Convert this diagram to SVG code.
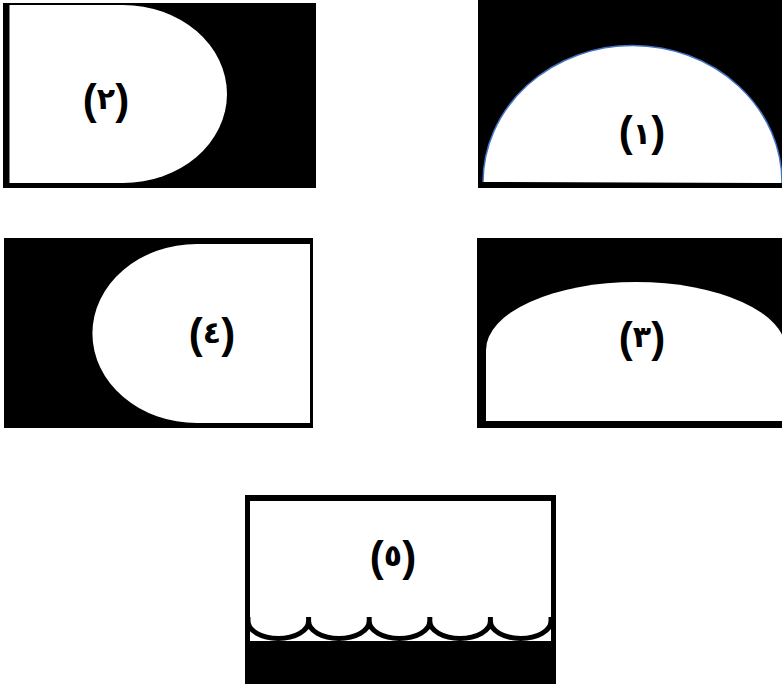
<svg xmlns="http://www.w3.org/2000/svg" width="782" height="685" viewBox="0 0 782 685">
<style>
.blk{fill:#000}
.wht{fill:#fff}
.lbl{font-family:"Liberation Sans","DejaVu Sans",sans-serif;font-weight:bold;font-size:42px;fill:#000;text-anchor:middle;direction:ltr}
.dg{font-family:"DejaVu Sans",sans-serif;font-size:30px}
.scal{fill:none;stroke:#000;stroke-width:5}
</style>
<rect width="782" height="685" fill="#fff"/>
<g id="panel1">
<rect class="blk" x="478" y="0" width="304" height="188"/>
<path class="wht" d="M483 182 A149.5 137 0 0 1 782 183 Z"/>
<path d="M483 182 A149.5 137 0 0 1 782 183" fill="none" stroke="#4472C4" stroke-width="1.5"/>
<text class="lbl" x="642" y="146">(<tspan class="dg" dy="-2">١</tspan><tspan dy="2">)</tspan></text>
</g>
<g id="panel2">
<rect class="blk" x="3" y="3" width="313" height="185"/>
<path class="wht" d="M9.5 5 H123 A104 89 0 0 1 123 183 H9.5 Z"/>
<text class="lbl" x="106" y="114">(<tspan class="dg" dy="-5">٢</tspan><tspan dy="5">)</tspan></text>
</g>
<g id="panel3">
<rect class="blk" x="477" y="238" width="305" height="190"/>
<path class="wht" d="M486 421 V350 A150 68 0 0 1 786 350 V421 Z"/>
<text class="lbl" x="642" y="352">(<tspan class="dg" dy="-5">٣</tspan><tspan dy="5">)</tspan></text>
</g>
<g id="panel4">
<rect class="blk" x="4" y="238" width="309" height="190"/>
<path class="wht" d="M310 244 H197 A104 89 0 0 0 197 423 H310 Z"/>
<text class="lbl" x="212" y="348">(<tspan class="dg" dy="-5">٤</tspan><tspan dy="5">)</tspan></text>
</g>
<g id="panel5">
<rect class="blk" x="245" y="495" width="311" height="189"/>
<rect class="wht" x="250" y="501" width="301" height="140"/>
<path class="scal" d="M248 617 v4 A30.3 17.5 0 0 0 308.6 621 v-4 M308.6 621 A30.3 17.5 0 0 0 369.2 621 v-4 M369.2 621 A30.3 17.5 0 0 0 429.8 621 v-4 M429.8 621 A30.3 17.5 0 0 0 490.4 621 v-4 M490.4 621 A30.3 17.5 0 0 0 551 621 v-4"/>
<text class="lbl" x="393" y="571">(<tspan class="dg" dy="-5">٥</tspan><tspan dy="5">)</tspan></text>
</g>
</svg>
